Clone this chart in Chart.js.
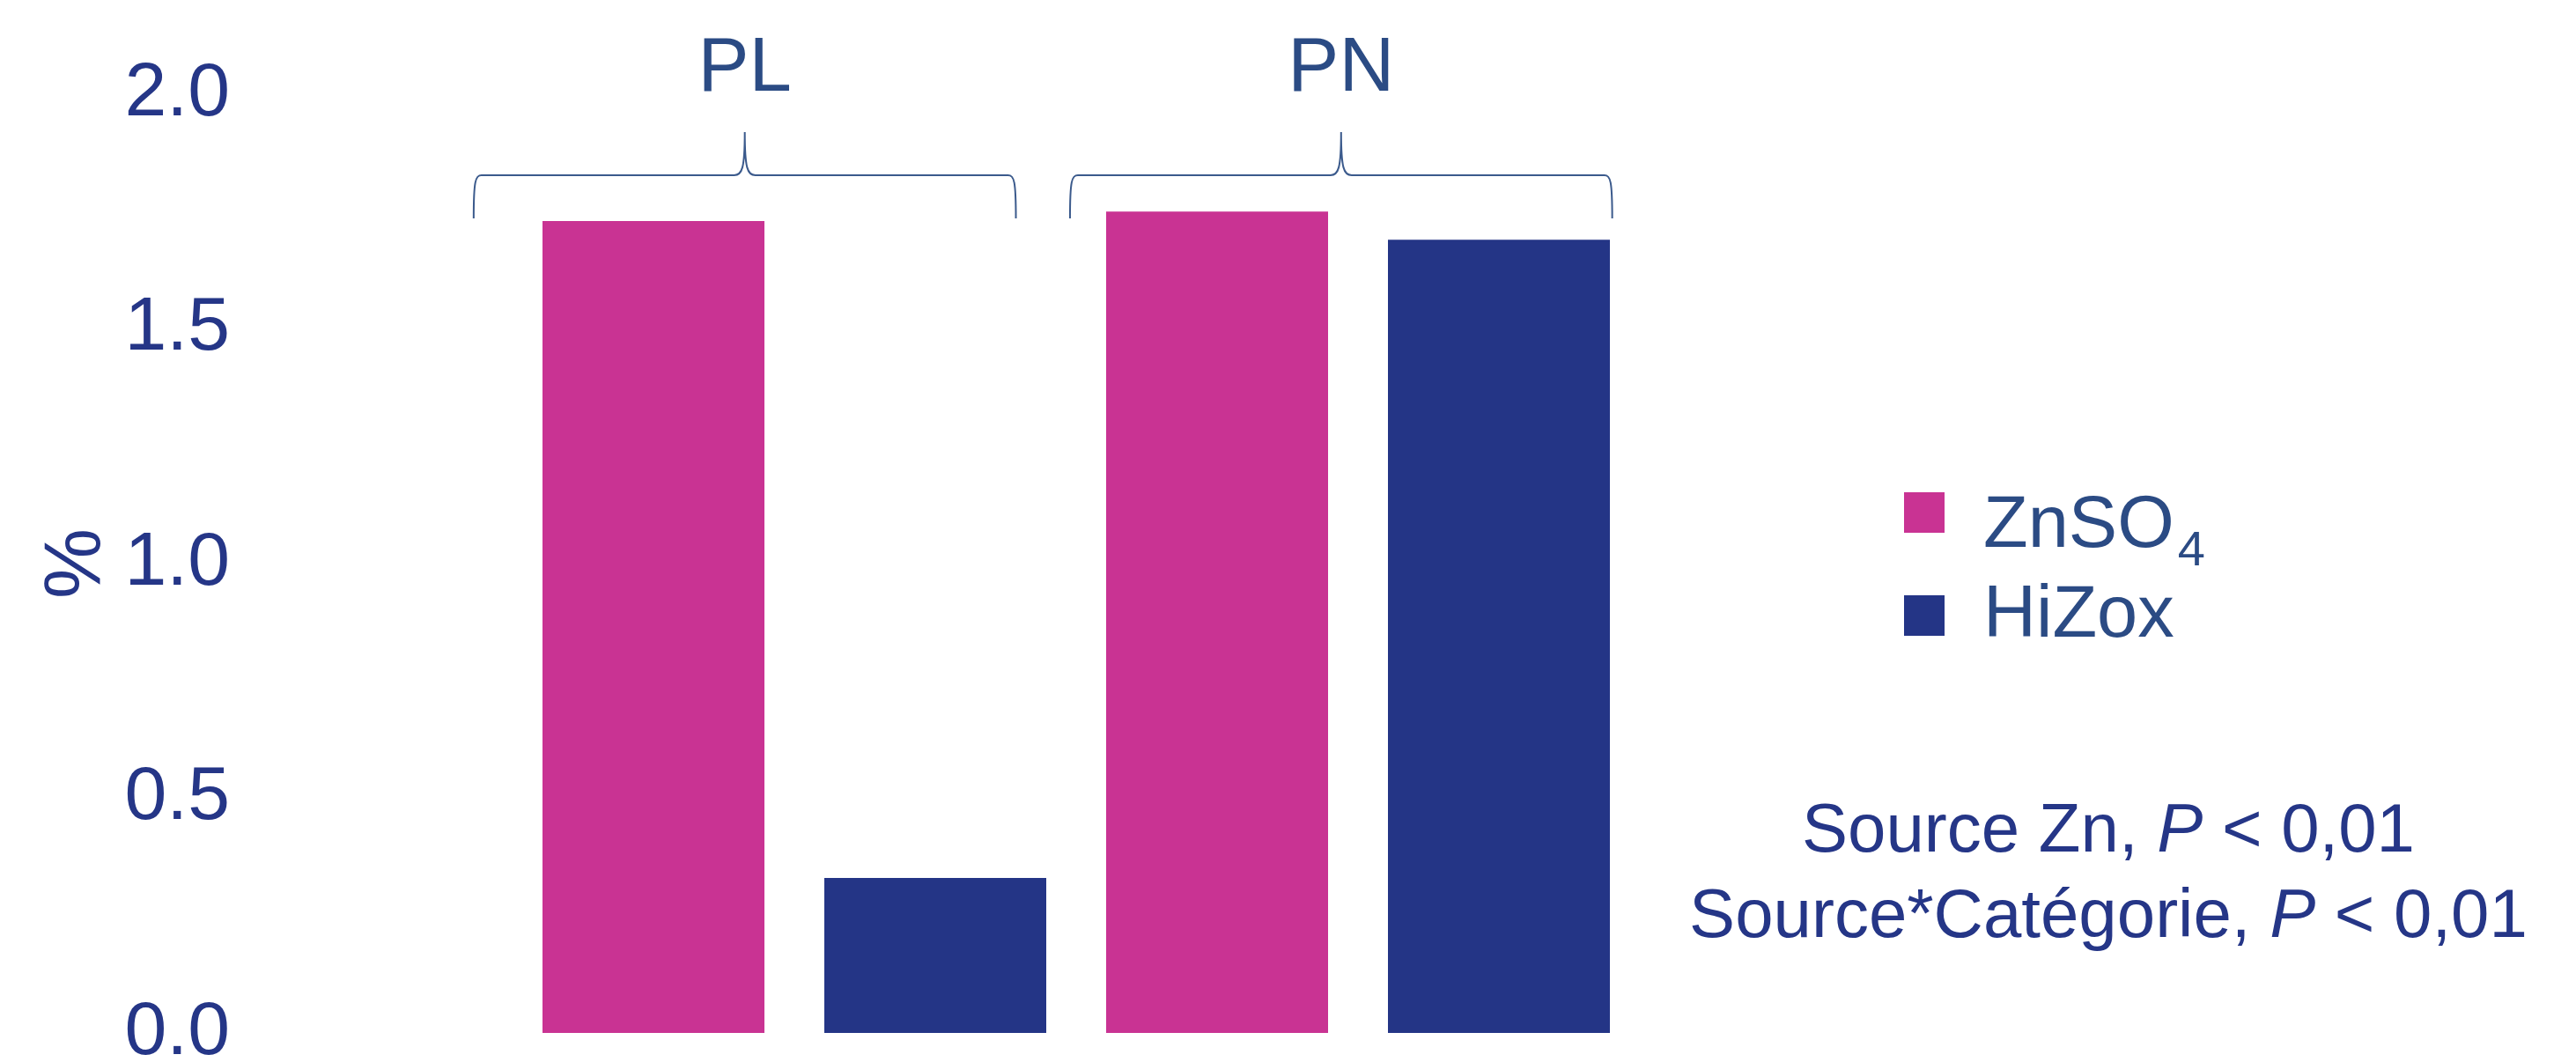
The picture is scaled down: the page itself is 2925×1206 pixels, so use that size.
<!DOCTYPE html>
<html>
<head>
<meta charset="utf-8">
<script src="https://cdn.jsdelivr.net/npm/chart.js@4/dist/chart.umd.min.js"></script>
<style>
  html, body { margin: 0; padding: 0; background: #ffffff; }
  canvas { display: block; }
</style>
</head>
<body>
<canvas id="grafico" width="2925" height="1206"></canvas>
<script>
const categorias = ['PL', 'PN'];
const series = ['ZnSO₄', 'HiZox'];
const valoresZnSO4 = [1.73, 1.75];
const valoresHiZox = [0.33, 1.69];
const ticksY = [0.0, 0.5, 1.0, 1.5, 2.0];
const tituloY = '%';
// texto de estadistica: la parte 1 de cada linea va en cursiva
const lineasStats = [
    ['Source Zn, ', 'P', ' < 0,01'],
    ['Source*Catégorie, ', 'P', ' < 0,01']
];

const fuente = "'Liberation Sans', Arial, sans-serif";
const colorZn = '#C93393';
const colorHi = '#243586';
const colorTexto = '#253687';
const colorEtiqueta = '#2B4B84';
const colorLlave = '#3B5A8C';

// llaves y nombres de categoria arriba de las barras
const llaves = {
    id: 'llaves',
    afterDraw(chart) {
        const { ctx, chartArea } = chart;
        const x = chart.scales.x;
        const anchoCat = chartArea.width / categorias.length;
        const desplaz = [-0.088, -0.03];
        ctx.save();
        ctx.strokeStyle = colorLlave;
        ctx.lineWidth = 2;
        ctx.fillStyle = colorEtiqueta;
        ctx.font = '87px ' + fuente;
        ctx.textAlign = 'center';
        ctx.textBaseline = 'alphabetic';
        categorias.forEach((cat, i) => {
            const xc = x.getPixelForValue(i) + desplaz[i] * anchoCat;
            const medio = anchoCat * 0.481;
            const x0 = xc - medio, x1 = xc + medio;
            const yb = chartArea.top + 141;
            const yh = chartArea.top + 92;
            const yt = chartArea.top + 43;
            ctx.beginPath();
            ctx.moveTo(x0, yb);
            ctx.bezierCurveTo(x0, yh + 6, x0 + 2, yh, x0 + 9, yh);
            ctx.lineTo(xc - 12, yh);
            ctx.bezierCurveTo(xc - 3, yh, xc, yh - 8, xc, yt);
            ctx.bezierCurveTo(xc, yh - 8, xc + 3, yh, xc + 12, yh);
            ctx.lineTo(x1 - 9, yh);
            ctx.bezierCurveTo(x1 - 2, yh, x1, yh + 6, x1, yb);
            ctx.stroke();
            ctx.fillText(cat, xc, chartArea.top - 4);
        });
        ctx.restore();
    }
};

function dibujarEtiqueta(ctx, texto, x, y) {
    const base = texto.replace(/[₀-₉]/g, '');
    const sub = texto.replace(/[^₀-₉]/g, '').replace(/[₀-₉]/g, c => String(c.charCodeAt(0) - 0x2080));
    ctx.font = '83px ' + fuente;
    ctx.fillText(base, x, y);
    if (sub) {
        const w = ctx.measureText(base).width;
        ctx.font = '56px ' + fuente;
        ctx.fillText(sub, x + w + 4, y + 21);
    }
}

// leyenda a la derecha, con subindice
const leyenda = {
    id: 'leyenda',
    afterDraw(chart) {
        const { ctx, chartArea } = chart;
        const xCuadro = chartArea.right + 300;
        const centro = (chartArea.top + chartArea.bottom) / 2;
        const cuadrosY = [centro - 81, centro + 36];
        const baseY = [centro - 19, centro + 83];
        ctx.save();
        ctx.textAlign = 'left';
        ctx.textBaseline = 'alphabetic';
        chart.data.datasets.forEach((ds, i) => {
            ctx.fillStyle = ds.backgroundColor;
            ctx.fillRect(xCuadro, cuadrosY[i], 46, 46);
            ctx.fillStyle = colorEtiqueta;
            dibujarEtiqueta(ctx, ds.label, xCuadro + 90, baseY[i]);
        });
        ctx.restore();
    }
};

const estadistica = {
    id: 'estadistica',
    afterDraw(chart) {
        const { ctx, chartArea } = chart;
        const xc = chartArea.right + 532;
        const bases = [chartArea.bottom - 206, chartArea.bottom - 109];
        ctx.save();
        ctx.fillStyle = colorTexto;
        ctx.textAlign = 'left';
        ctx.textBaseline = 'alphabetic';
        lineasStats.forEach((partes, i) => {
            const fonts = partes.map((p, j) => (j === 1 ? 'italic ' : '') + '78px ' + fuente);
            let total = 0;
            const anchos = partes.map((p, j) => {
                ctx.font = fonts[j];
                const w = ctx.measureText(p).width;
                total += w;
                return w;
            });
            let xx = xc - total / 2;
            partes.forEach((p, j) => {
                ctx.font = fonts[j];
                ctx.fillText(p, xx, bases[i]);
                xx += anchos[j];
            });
        });
        ctx.restore();
    }
};

new Chart(document.getElementById('grafico'), {
    type: 'bar',
    data: {
        labels: categorias,
        datasets: [{
            label: series[0],
            data: valoresZnSO4,
            backgroundColor: colorZn,
            categoryPercentage: 1,
            barPercentage: 0.7875
        }, {
            label: series[1],
            data: valoresHiZox,
            backgroundColor: colorHi,
            categoryPercentage: 1,
            barPercentage: 0.7875
        }]
    },
    options: {
        responsive: false,
        animation: false,
        devicePixelRatio: 1,
        layout: {
            padding: { left: 0, right: 1063, top: 107, bottom: 33 }
        },
        plugins: {
            legend: { display: false },
            tooltip: { enabled: false }
        },
        scales: {
            x: {
                display: false,
                offset: true
            },
            y: {
                min: 0,
                max: 2,
                grid: { display: false, drawTicks: false },
                border: { display: false },
                afterBuildTicks: s => { s.ticks = ticksY.map(v => ({ value: v })); },
                afterFit: s => {
                    s.width = 582;
                    s.paddingTop = 0;
                    s.paddingBottom = 0;
                },
                ticks: {
                    padding: 321,
                    color: colorTexto,
                    font: { size: 86, family: fuente },
                    callback: v => Number(v).toFixed(1)
                },
                title: {
                    display: true,
                    text: tituloY,
                    color: colorTexto,
                    font: { size: 90, family: fuente },
                    padding: { top: 34, bottom: 0 }
                }
            }
        }
    },
    plugins: [llaves, leyenda, estadistica]
});
</script>
</body>
</html>
